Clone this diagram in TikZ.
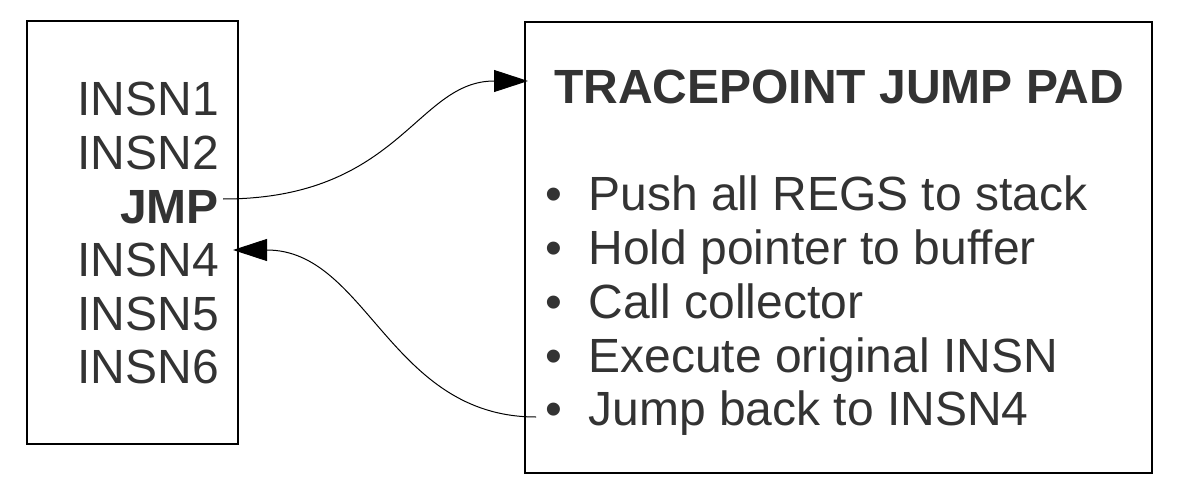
\documentclass[tikz,border=0pt]{standalone}
\usepackage{fontspec}
\setmainfont{Liberation Sans}
\usetikzlibrary{arrows.meta}
\definecolor{inkgray}{HTML}{333333}
\newcommand{\padbul}{•\hspace{26.5pt}}

\begin{document}
\begin{tikzpicture}[x=1pt,y=-1pt,
					box/.style={draw=black, line width=1.2pt, inner sep=0pt},
					insn/.style={text=inkgray, inner sep=0pt, anchor=base east, font=\fontsize{48}{54}\selectfont},
					padline/.style={text=inkgray, inner sep=0pt, anchor=base west, font=\fontsize{48}{54}\selectfont},
					jumparrow/.style={line width=1pt, -{Triangle[length=34pt,width=22pt]}}]
					\useasboundingbox (0,0) rectangle (1177,492);
					
					% program listing
					\node[box, minimum width=211pt, minimum height=423pt] (prog) at (132.5,232.5) {};
					\node[insn] (insn1) at (219,116) {INSN1};
					\node[insn] (insn2) at (219,169.5) {INSN2};
					\node[insn, font=\fontsize{48}{54}\selectfont\bfseries] (jmp) at (219,223) {JMP};
					\node[insn] (insn4) at (219,276.5) {INSN4};
					\node[insn] (insn5) at (219,330) {INSN5};
					\node[insn] (insn6) at (219,383) {INSN6};
					
					% jump pad
					\node[box, minimum width=627pt, minimum height=451pt] (pad) at (838.5,247.5) {};
					\node[padline, font=\fontsize{48}{54}\selectfont\bfseries] (title) at (554,103) {TRACEPOINT JUMP PAD};
					\node[padline] (push) at (545,210) {\padbul Push all REGS to stack};
					\node[padline] (hold) at (545,264) {\padbul Hold pointer to buffer};
					\node[padline] (call) at (545,318) {\padbul Call collector};
					\node[padline] (exec) at (545,372) {\padbul Execute original INSN};
					\node[padline] (back) at (545,425) {\padbul Jump back to INSN4};
					
					\coordinate (jmpout) at (223,199);
					\coordinate (padin) at (528,81);
					\coordinate (backout) at (536,417);
					\coordinate (insnin) at (233,250);
					
					\draw[jumparrow] (jmpout) .. controls (400,199) and (416,81) .. (padin);
					\draw[jumparrow] (backout) .. controls (390,417) and (367,250) .. (insnin);
				\end{tikzpicture}
\end{document}
